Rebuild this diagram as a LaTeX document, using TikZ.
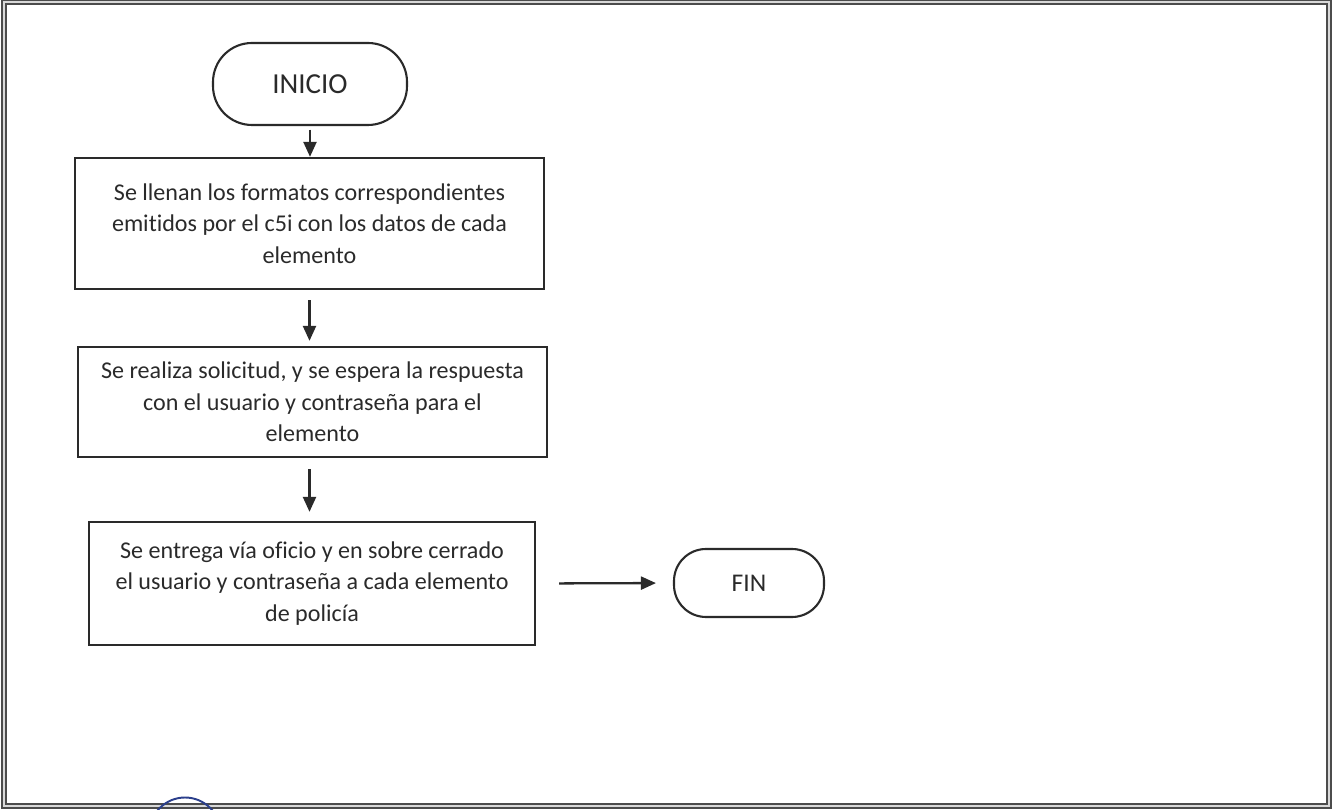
\documentclass[tikz,border=0pt]{standalone}
\usepackage{fontspec}
\setmainfont{Carlito}[RawFeature=-liga]
\usetikzlibrary{arrows.meta}

\definecolor{trazo}{HTML}{2A2A2A}
\definecolor{sello}{HTML}{2B3F8C}

\begin{document}
\begin{tikzpicture}[
    every node/.style={font=\fontsize{13.7}{18}\selectfont, text=trazo},
    proceso/.style={draw=trazo, line width=1.3pt, align=center, minimum width=9.38cm, inner sep=0pt},
    terminal/.style={draw=trazo, line width=1.2pt},
    flecha/.style={-{Triangle[length=0.3cm,width=0.26cm]}, line width=1.3pt, draw=trazo}
]
    % 1. Marco de la hoja
    \useasboundingbox (0,0) rectangle (26.68,16.2);
    \draw[black!70, line width=1pt, double=black!15, double distance=0.9pt] (0.08,0.08) rectangle (26.58,16.16);

    % 2. Inicio y pasos del proceso (columna izquierda)
    \node[terminal, rounded corners=0.78cm, minimum width=3.88cm, minimum height=1.64cm,
          font=\fontsize{16.5}{18}\selectfont] (inicio) at (6.2,14.52) {INICIO};
    \node[proceso, minimum height=2.62cm] (llenado) at (6.19,11.73)
        {Se llenan los formatos correspondientes\\emitidos por el c5i con los datos de cada\\elemento};
    \node[proceso, minimum height=2.2cm] (solicitud) at (6.25,8.16)
        {Se realiza solicitud, y se espera la respuesta\\con el usuario y contraseña para el\\elemento};
    \node[proceso, minimum width=8.92cm, minimum height=2.46cm] (entrega) at (6.24,4.53)
        {Se entrega vía oficio y en sobre cerrado\\el usuario y contraseña a cada elemento\\de policía};

    % 3. Fin, a la derecha del ultimo paso
    \node[terminal, rounded corners=0.64cm, minimum width=3cm, minimum height=1.36cm,
          font=\fontsize{14.5}{16}\selectfont] (fin) at (14.98,4.54) {FIN};

    % 4. Flechas entre pasos
    \draw[flecha, shorten <=2pt] (inicio.south) -- (inicio.south |- llenado.north);
    \draw[flecha, shorten <=0.2cm, shorten >=0.1cm] (llenado.south) -- (llenado.south |- solicitud.north);
    \draw[flecha, shorten <=0.22cm, shorten >=0.18cm] (llenado.south |- solicitud.south) -- (llenado.south |- entrega.north);
    \draw[flecha, shorten <=0.46cm, shorten >=0.34cm] (entrega.east) -- (fin.west);

    % 5. Borde del sello (abajo a la izquierda)
    \begin{scope}
        \clip (0,0) rectangle (26.68,16.2);
        \draw[sello, line width=1.1pt] (3.7,-0.46) circle (0.71);
    \end{scope}
\end{tikzpicture}
\end{document}
